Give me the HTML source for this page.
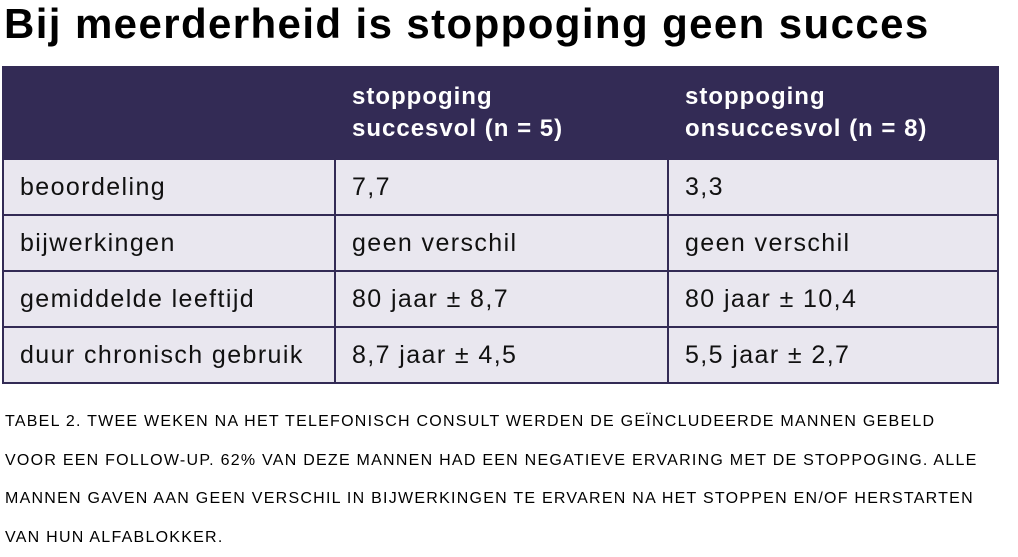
<!DOCTYPE html>
<html><head><meta charset="utf-8"><style>
body{margin:0;width:1018px;height:556px;background:#fff;font-family:"Liberation Sans",sans-serif;position:relative;overflow:hidden}
.t{position:absolute;left:4px;top:0px;font-size:42px;letter-spacing:1.4px;font-weight:bold;color:#000;white-space:nowrap}
table{position:absolute;left:2px;top:66px;width:997px;border-collapse:collapse}
td,th{border:2px solid #332b55;text-align:left;padding:0 0 0 16px;font-size:25px;letter-spacing:1.4px;color:#111;white-space:nowrap}
th{background:#332b55;color:#fff;font-weight:bold;height:90px;font-size:24px;letter-spacing:1px;line-height:32px;vertical-align:middle}
td{background:#e9e7ef;height:54px}
.c{position:absolute;left:5px;top:403px;font-size:16px;letter-spacing:1.25px;line-height:38.5px;color:#000;width:1010px;white-space:nowrap}
</style></head><body>
<div class="t">Bij meerderheid is stoppoging geen succes</div>
<table>
<tr><th style="width:314px"></th><th style="width:315px">stoppoging<br>succesvol (n = 5)</th><th>stoppoging<br>onsuccesvol (n = 8)</th></tr>
<tr><td>beoordeling</td><td>7,7</td><td>3,3</td></tr>
<tr><td>bijwerkingen</td><td>geen verschil</td><td>geen verschil</td></tr>
<tr><td>gemiddelde leeftijd</td><td>80 jaar ± 8,7</td><td>80 jaar ± 10,4</td></tr>
<tr><td>duur chronisch gebruik</td><td>8,7 jaar ± 4,5</td><td>5,5 jaar ± 2,7</td></tr>
</table>
<div class="c">TABEL 2. TWEE WEKEN NA HET TELEFONISCH CONSULT WERDEN DE GEÏNCLUDEERDE MANNEN GEBELD<br>VOOR EEN FOLLOW-UP. 62% VAN DEZE MANNEN HAD EEN NEGATIEVE ERVARING MET DE STOPPOGING. ALLE<br>MANNEN GAVEN AAN GEEN VERSCHIL IN BIJWERKINGEN TE ERVAREN NA HET STOPPEN EN/OF HERSTARTEN<br>VAN HUN ALFABLOKKER.</div>
</body></html>
